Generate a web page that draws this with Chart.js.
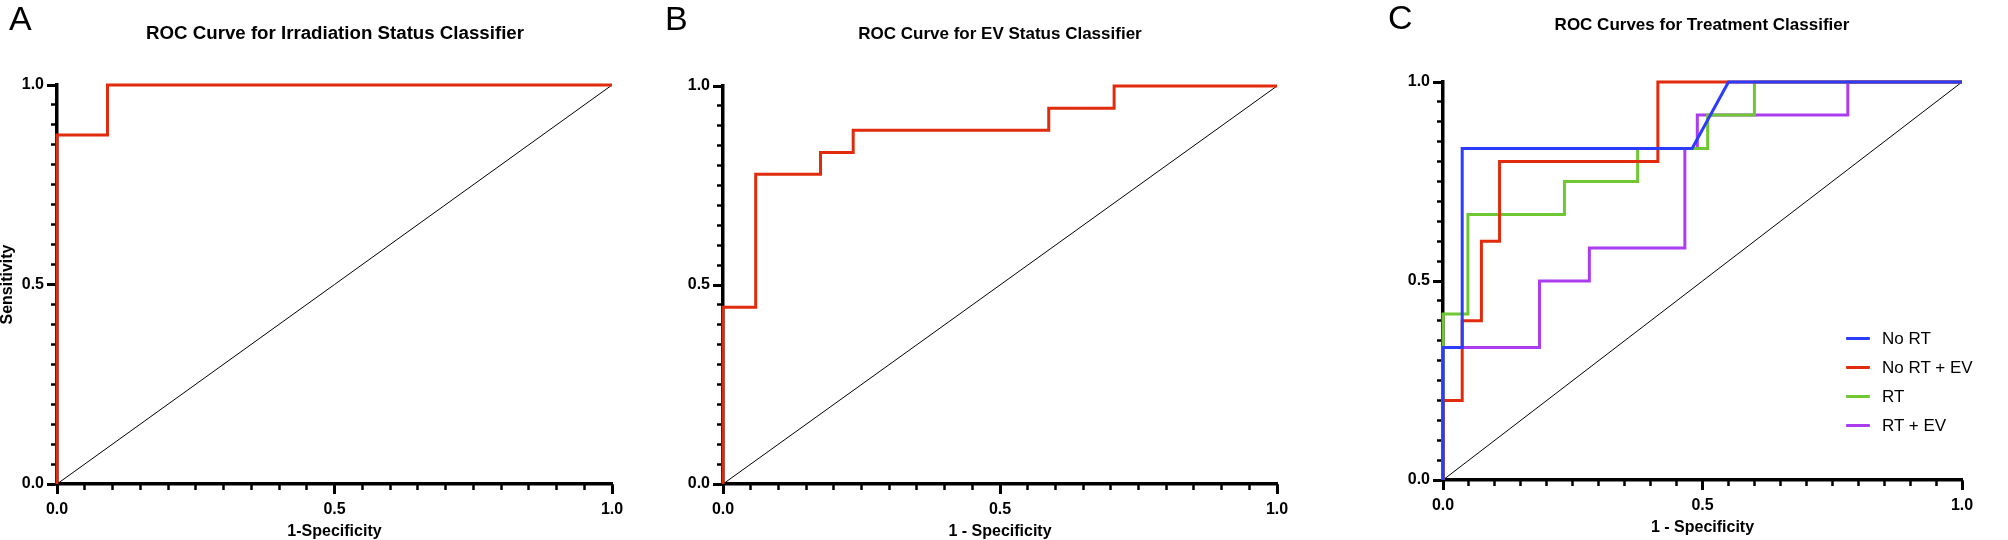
<!DOCTYPE html>
<html>
<head>
<meta charset="utf-8">
<script src="https://cdn.jsdelivr.net/npm/chart.js@4.4.1/dist/chart.umd.min.js"></script>
<style>
  body { margin: 0; background: #fff; }
  #wrap { position: relative; width: 2008px; height: 540px; overflow: hidden; font-family: "Liberation Sans", Arial, sans-serif; color: #000; }
  .panel { position: absolute; top: 0; }
  .letter { position: absolute; font-size: 34px; line-height: 1; }
  .title { position: absolute; font-size: 17px; font-weight: bold; line-height: 1; white-space: nowrap; transform: translateX(-50%); }
  #legend { position: absolute; left: 1846px; top: 324px; font-size: 17px; }
  #legend .row { height: 29px; display: flex; align-items: center; }
  #legend .sw { width: 24px; height: 3px; margin-right: 12px; border-radius: 1px; }
</style>
</head>
<body>
<div id="wrap">
  <canvas id="chartA" class="panel" style="left:0px" width="640" height="540"></canvas>
  <canvas id="chartB" class="panel" style="left:650px" width="660" height="540"></canvas>
  <canvas id="chartC" class="panel" style="left:1380px" width="628" height="540"></canvas>
  <div class="letter" style="left:9px; top:1px">A</div>
  <div class="letter" style="left:665px; top:1px">B</div>
  <div class="letter" style="left:1388px; top:0px">C</div>
  <div class="title" style="left:335px; top:24px; font-size:18.7px">ROC Curve for Irradiation Status Classifier</div>
  <div class="title" style="left:1000px; top:25px">ROC Curve for EV Status Classifier</div>
  <div class="title" style="left:1702px; top:16px">ROC Curves for Treatment Classifier</div>
  <div id="legend"></div>
</div>
<script>
// ROC points (1 - specificity, sensitivity)
const irrFpr = [0, 0, 0.091, 0.091, 1];
const irrTpr = [0, 0.875, 0.875, 1, 1];

const evFpr = [0, 0, 0.059, 0.059, 0.176, 0.176, 0.235, 0.235, 0.588, 0.588, 0.706, 0.706, 1];
const evTpr = [0, 0.444, 0.444, 0.778, 0.778, 0.833, 0.833, 0.889, 0.889, 0.944, 0.944, 1, 1];

const treatNames = ['No RT', 'No RT + EV', 'RT', 'RT + EV'];
const noRtFpr = [0, 0, 0.037, 0.037, 0.48, 0.55, 1];
const noRtTpr = [0, 0.333, 0.333, 0.833, 0.833, 1, 1];
const noRtEvFpr = [0, 0, 0.037, 0.037, 0.074, 0.074, 0.109, 0.109, 0.414, 0.414, 1];
const noRtEvTpr = [0, 0.2, 0.2, 0.4, 0.4, 0.6, 0.6, 0.8, 0.8, 1, 1];
const rtFpr = [0, 0, 0.048, 0.048, 0.234, 0.234, 0.375, 0.375, 0.51, 0.51, 0.6, 0.6, 1];
const rtTpr = [0, 0.417, 0.417, 0.667, 0.667, 0.75, 0.75, 0.833, 0.833, 0.917, 0.917, 1, 1];
const rtEvFpr = [0, 0, 0.186, 0.186, 0.282, 0.282, 0.466, 0.466, 0.49, 0.49, 0.78, 0.78, 1];
const rtEvTpr = [0, 0.333, 0.333, 0.5, 0.5, 0.583, 0.583, 0.833, 0.833, 0.917, 0.917, 1, 1];

const chanceFpr = [0, 1];
const chanceTpr = [0, 1];

const majorStep = 0.5;
const minorStep = 0.05;

const FONT = '"Liberation Sans", Arial, sans-serif';
const RED = '#e02b0c';
const treatColors = ['#2b3cff', RED, '#6fc832', '#ab3cf0'];

Chart.defaults.font.family = FONT;
Chart.defaults.color = '#000';

function pts(xs, ys) {
  return xs.map((x, i) => ({ x: x, y: ys[i] }));
}

function curve(label, xs, ys, color) {
  return { label: label, data: pts(xs, ys), borderColor: color, borderWidth: 3, pointRadius: 0, fill: false, tension: 0, clip: false };
}

function chance() {
  return { label: 'chance', data: pts(chanceFpr, chanceTpr), borderColor: '#000', borderWidth: 1, pointRadius: 0, order: 10 };
}

function majorAxis(pos, title, size, titlePad) {
  const horiz = pos === 'bottom';
  return {
    type: 'linear', position: pos, min: 0, max: 1, weight: 1,
    border: { display: true, color: '#000', width: 3.5 },
    grid: { drawOnChartArea: false, drawTicks: true, tickLength: 10, tickWidth: 3, tickColor: '#000' },
    ticks: { stepSize: majorStep, padding: horiz ? 6 : 3, maxRotation: 0, color: '#000',
      font: { family: FONT, size: 16, weight: 'bold' }, callback: v => v.toFixed(1) },
    title: { display: !!title, text: title || '', color: '#000', padding: titlePad,
      font: { family: FONT, size: 16, weight: 'bold', lineHeight: 1 } },
    afterFit: s => { if (horiz) s.height = size; else s.width = size; }
  };
}

function minorAxis(pos) {
  const horiz = pos === 'bottom';
  return {
    type: 'linear', position: pos, min: 0, max: 1, weight: 0,
    border: { display: false },
    grid: { drawOnChartArea: false, drawTicks: true, tickLength: 6, tickWidth: 2.5, tickColor: '#000' },
    ticks: { stepSize: minorStep, maxTicksLimit: 100, display: false },
    afterFit: s => { if (horiz) s.height = 0; else s.width = 0; }
  };
}

function rocChart(id, datasets, box) {
  return new Chart(document.getElementById(id), {
    type: 'line',
    data: { datasets: datasets },
    options: {
      responsive: false,
      animation: false,
      layout: { padding: { top: box.top, right: box.right, left: 0, bottom: 0 } },
      plugins: { legend: { display: false }, tooltip: { enabled: false }, title: { display: false } },
      scales: {
        x: majorAxis('bottom', box.xTitle, box.xSize, { top: 0, bottom: box.xTitlePad }),
        xm: minorAxis('bottom'),
        y: majorAxis('left', box.yTitle, box.ySize, { top: 0, bottom: 0 }),
        ym: minorAxis('left')
      }
    }
  });
}

rocChart('chartA', [curve('Irradiation', irrFpr, irrTpr, RED), chance()],
  { top: 85, right: 28, xSize: 56, ySize: 57, xTitle: '1-Specificity', yTitle: 'Sensitivity', xTitlePad: 0 });

rocChart('chartB', [curve('EV', evFpr, evTpr, RED), chance()],
  { top: 86, right: 33, xSize: 56, ySize: 73, xTitle: '1 - Specificity', yTitle: '', xTitlePad: 0 });

const treatFpr = [noRtFpr, noRtEvFpr, rtFpr, rtEvFpr];
const treatTpr = [noRtTpr, noRtEvTpr, rtTpr, rtEvTpr];
const treatSets = treatNames.map((n, i) => curve(n, treatFpr[i], treatTpr[i], treatColors[i]));
treatSets.push(chance());
rocChart('chartC', treatSets,
  { top: 82, right: 46, xSize: 60, ySize: 63, xTitle: '1 - Specificity', yTitle: '', xTitlePad: 4 });

// legend for panel C
const legend = document.getElementById('legend');
treatNames.forEach((n, i) => {
  const row = document.createElement('div');
  row.className = 'row';
  row.innerHTML = '<span class="sw" style="background:' + treatColors[i] + '"></span><span>' + n + '</span>';
  legend.appendChild(row);
});
</script>
</body>
</html>
